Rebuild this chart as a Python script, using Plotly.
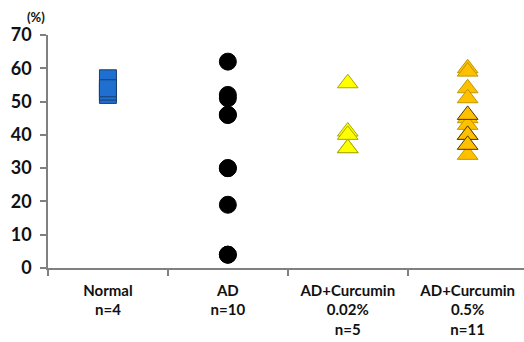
import plotly.graph_objects as go

categories = ["Normal<br>n=4", "AD<br>n=10", "AD+Curcumin<br>0.02%<br>n=5", "AD+Curcumin<br>0.5%<br>n=11"]
normal_vals = [57, 52, 53, 54]
ad_vals = [62, 52, 51, 46, 46, 30, 30, 19, 4, 4]
cur002_vals = [55.5, 41, 40, 36, 36]
cur05_vals = [60, 59, 54, 51, 45, 43, 46, 40, 40, 34, 37]
cur05_edges = ["#C09600", "#C09600", "#C09600", "#C09600", "#C09600", "#C09600",
               "#4A3A00", "#C09600", "#4A3A00", "#C09600", "#4A3A00"]
y_ticks = [0, 10, 20, 30, 40, 50, 60, 70]

FONT = "Lato, 'Open Sans', Arial, sans-serif"

fig = go.Figure()
fig.add_trace(go.Scatter(x=[0] * len(normal_vals), y=normal_vals, mode="markers",
                         marker=dict(symbol="square", size=17, color="#1E6FD0",
                                     line=dict(color="#1A3F6E", width=1))))
fig.add_trace(go.Scatter(x=[1] * len(ad_vals), y=ad_vals, mode="markers",
                         marker=dict(symbol="circle", size=17, color="#000000",
                                     line=dict(color="#000000", width=1))))
fig.add_trace(go.Scatter(x=[2] * len(cur002_vals), y=cur002_vals, mode="markers",
                         marker=dict(symbol="triangle-up", size=18, color="#FFFF00",
                                     line=dict(color="#A8A800", width=1))))
fig.add_trace(go.Scatter(x=[3] * len(cur05_vals), y=cur05_vals, mode="markers",
                         marker=dict(symbol="triangle-up", size=18, color="#FFC000",
                                     line=dict(color=cur05_edges, width=1))))

fig.update_layout(
    width=524, height=342,
    margin=dict(l=48, r=0, t=35, b=74),
    plot_bgcolor="white", paper_bgcolor="white",
    showlegend=False,
    font=dict(family=FONT, color="#111111"),
    xaxis=dict(range=[-0.5, 3.47], tickvals=[0, 1, 2, 3], ticktext=["<b>%s</b>" % c for c in categories],
               ticks="", showgrid=False, zeroline=False, showline=True, linecolor="#808080",
               linewidth=1.5, tickfont=dict(size=15, family=FONT), ticklabelstandoff=8,
               automargin=False,
               minor=dict(tickvals=[-0.5, 0.5, 1.5, 2.5], ticks="outside", ticklen=6,
                          tickcolor="#808080", tickwidth=1.5, showgrid=False)),
    yaxis=dict(range=[0, 70], tickvals=y_ticks, ticktext=["<b>%d</b>" % v for v in y_ticks],
               ticks="outside", ticklen=6, tickcolor="#808080", tickwidth=1.5,
               showgrid=False, zeroline=False, showline=True, linecolor="#808080", linewidth=1.5,
               tickfont=dict(size=18, family=FONT), ticklabelstandoff=5, automargin=False),
    annotations=[dict(text="<b>(%)</b>", xref="paper", yref="paper", x=0, y=1,
                      xanchor="right", yanchor="bottom", xshift=-1, yshift=8, showarrow=False,
                      font=dict(size=13, family=FONT, color="#111111"))],
)

fig.write_html("out.html", config={"displayModeBar": False},
               post_script="document.body.style.margin='0';document.body.style.overflow='hidden';")
